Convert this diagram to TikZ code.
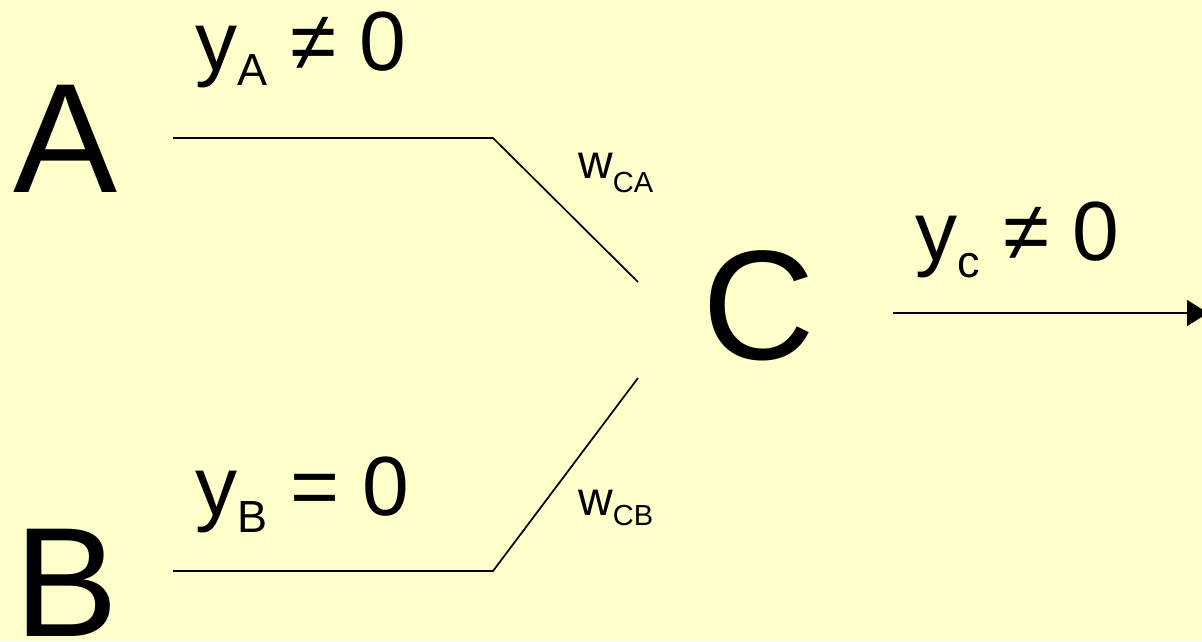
\documentclass[tikz,border=0pt]{standalone}
\usepackage{fontspec}
\setmainfont{Liberation Sans}
\usetikzlibrary{arrows.meta, positioning}
\definecolor{paper}{RGB}{255,255,204}

\begin{document}
\begin{tikzpicture}[x=1pt, y=-1pt, >={Triangle[length=21pt, width=26pt]},
  letter/.style={anchor=base west, inner sep=0pt, font=\fontsize{156}{156}\selectfont},
  value/.style={anchor=base west, inner sep=0pt, font=\fontsize{84}{84}\selectfont},
  weight/.style={anchor=base west, inner sep=0pt, font=\fontsize{48}{48}\selectfont},
  wire/.style={line width=1.7pt}]
  \fill[paper] (0,0) rectangle (1202,641);
  \useasboundingbox (0,0) rectangle (1202,641);
  % Units
  \node[letter] (A) at (13,192) {A};
  \node[letter] (B) at (14,636) {B};
  \node[letter] (C) at (702,359) {C};
  % Connections
  \coordinate (a0) at (173,138);
  \coordinate (a1) at (493,138);
  \coordinate (a2) at (638,282);
  \coordinate (b0) at (173,571);
  \coordinate (b1) at (493,571);
  \coordinate (b2) at (638,378);
  \coordinate (c0) at (893,313);
  \coordinate (c1) at (1208,313);
  \draw[wire] (a0) -- (a1) -- (a2);
  \draw[wire] (b0) -- (b1) -- (b2);
  \draw[wire, ->] (c0) -- (c1);
  % Outputs and weights
  \node[value] (ya) at (195,70) {y\raisebox{-15pt}{\fontsize{45}{45}\selectfont A} ≠ 0};
  \node[value] (yb) at (195,515) {y\raisebox{-17pt}{\fontsize{45}{45}\selectfont B} = 0};
  \node[value] (yc) at (915,260) {y\raisebox{-17pt}{\fontsize{45}{45}\selectfont c} ≠ 0};
  \node[weight] (wca) at (578,178) {w\raisebox{-14pt}{\fontsize{29}{29}\selectfont CA}};
  \node[weight] (wcb) at (578,515) {w\raisebox{-10pt}{\fontsize{29}{29}\selectfont CB}};
\end{tikzpicture}
\end{document}
